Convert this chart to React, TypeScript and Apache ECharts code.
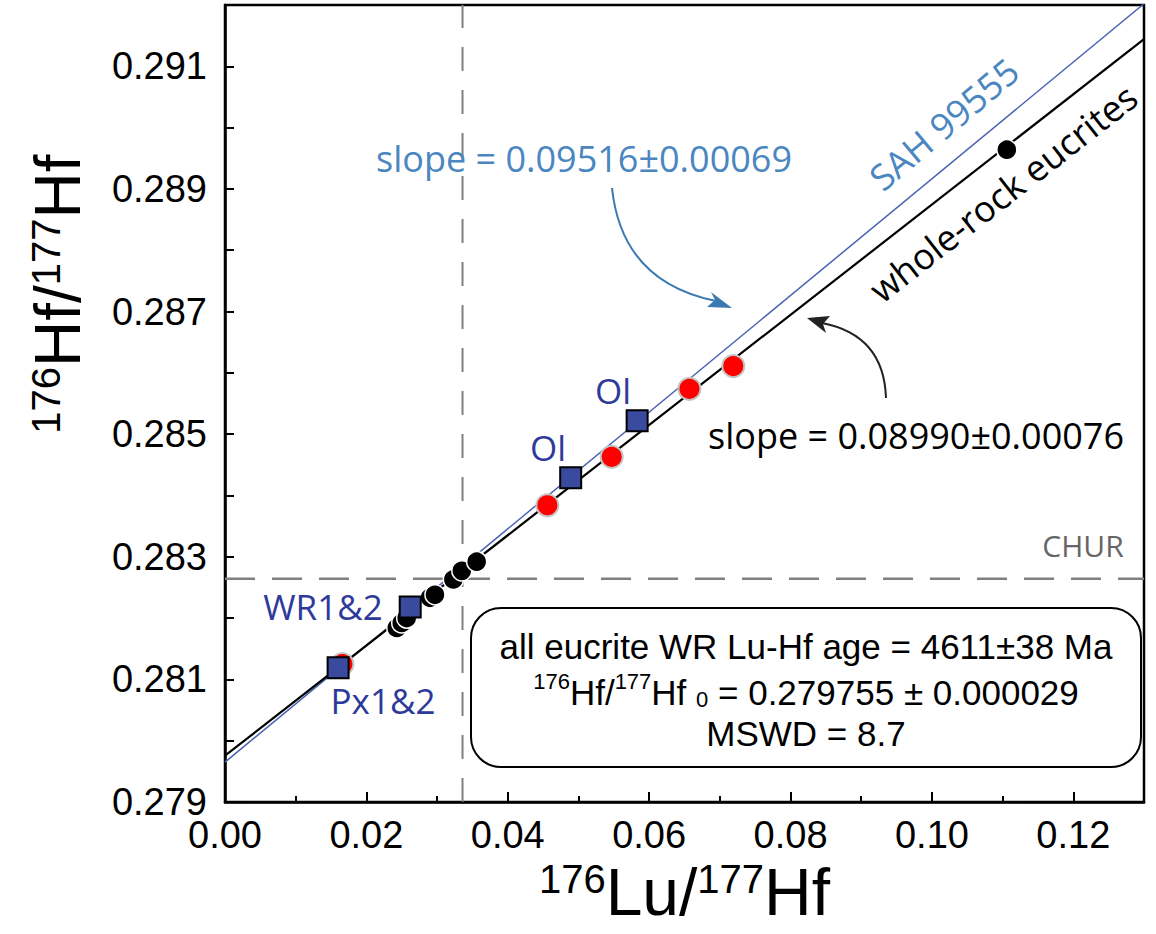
import React, { useEffect, useRef } from "react";
import * as echarts from "echarts";

// ---- data ----
const fitX = [0, 0.13];
const wholeRockFitY = [0.279755, 0.291442];
const sahFitY = [0.27965, 0.29202];
const churHf = 0.28264;
const churLu = 0.0336;

const wrX = [0.0243, 0.025, 0.0257, 0.029, 0.0297, 0.0323, 0.0335, 0.0356, 0.1106];
const wrY = [0.28184, 0.28192, 0.282, 0.28233, 0.28238, 0.28263, 0.28277, 0.28292, 0.28964];

const redX = [0.0166, 0.0456, 0.0547, 0.0657, 0.0719];
const redY = [0.28125, 0.28384, 0.28463, 0.28574, 0.28611];

const sqX = [0.016, 0.0262, 0.0489, 0.0583];
const sqY = [0.28119, 0.28218, 0.28429, 0.28522];

const xMin = 0, xMax = 0.13, xStep = 0.02;
const yMin = 0.279, yMax = 0.292, yStep = 0.002;

const pts = (xs: number[], ys: number[]) => xs.map((x, i) => [x, ys[i]]);

const SANS = "'Liberation Sans', Arial, sans-serif";
const UI = "'Open Sans', 'Noto Sans', sans-serif";
const BLUE_TXT = "#4a86c0";
const DARK_BLUE = "#2e3a9a";

export default function App() {
  const ref = useRef<HTMLDivElement>(null);
  useEffect(() => {
    const chart = echarts.init(ref.current!, null, { renderer: "svg" });
    const deg = Math.PI / 180;
    chart.setOption({
      animation: false,
      backgroundColor: "#fff",
      grid: {
        left: 225, right: 12, top: 5, bottom: 132,
        show: true, borderColor: "#000", borderWidth: 2.5, backgroundColor: "transparent",
      },
      xAxis: {
        type: "value", min: xMin, max: xMax, interval: xStep,
        axisLine: { show: true, lineStyle: { color: "#000", width: 2.5 } },
        axisTick: { show: true, inside: true, length: 10, lineStyle: { color: "#000", width: 2 } },
        minorTick: { show: true, splitNumber: 2, length: 6, lineStyle: { color: "#000", width: 2 } },
        splitLine: { show: false },
        axisLabel: {
          fontFamily: SANS, fontSize: 38, color: "#000", margin: 14,
          showMaxLabel: false, formatter: (v: number) => v.toFixed(2),
        },
        name: "{s|176}{m|Lu/}{s|177}{m|Hf}",
        nameLocation: "middle",
        nameGap: 52,
        nameTextStyle: {
          rich: {
            s: { fontFamily: SANS, fontSize: 40, verticalAlign: "top", lineHeight: 40, color: "#000" },
            m: { fontFamily: SANS, fontSize: 66, verticalAlign: "top", lineHeight: 66, color: "#000" },
          },
        },
      },
      yAxis: {
        type: "value", min: yMin, max: yMax, interval: yStep,
        axisLine: { show: true, lineStyle: { color: "#000", width: 2.5 } },
        axisTick: { show: true, inside: true, length: 9, lineStyle: { color: "#000", width: 2 } },
        minorTick: { show: true, splitNumber: 2, length: 9, lineStyle: { color: "#000", width: 2 } },
        splitLine: { show: false },
        axisLabel: {
          fontFamily: SANS, fontSize: 38, color: "#000", margin: 18,
          showMaxLabel: false, formatter: (v: number) => v.toFixed(3),
        },
      },
      series: [
        {
          name: "CHUR Hf", type: "line", symbol: "none", silent: true,
          data: [[xMin, churHf], [xMax, churHf]],
          lineStyle: { color: "#808080", width: 2.5, type: [30, 17] }, z: 1,
        },
        {
          name: "CHUR Lu", type: "line", symbol: "none", silent: true,
          data: [[churLu, yMin], [churLu, yMax]],
          lineStyle: { color: "#808080", width: 2, type: [24, 19] }, z: 1,
        },
        {
          name: "SAH 99555", type: "line", symbol: "none",
          data: pts(fitX, sahFitY),
          lineStyle: { color: "#4a63b0", width: 1.5 }, z: 2,
        },
        {
          name: "whole-rock eucrites", type: "line", symbol: "none",
          data: pts(fitX, wholeRockFitY),
          lineStyle: { color: "#000", width: 2.2 }, z: 2,
        },
        {
          name: "WR eucrites", type: "scatter", symbol: "circle", symbolSize: 20,
          data: pts(wrX, wrY),
          itemStyle: { color: "#000", borderColor: "#fff", borderWidth: 1.5, opacity: 1 }, z: 3,
        },
        {
          name: "SAH WR", type: "scatter", symbol: "circle", symbolSize: 22,
          data: pts(redX, redY),
          itemStyle: { color: "#ff0000", borderColor: "#c4c4c4", borderWidth: 2, opacity: 1 }, z: 4,
        },
        {
          name: "SAH minerals", type: "scatter", symbol: "rect", symbolSize: 21,
          data: pts(sqX, sqY),
          itemStyle: { color: "#3a4a9f", borderColor: "#000", borderWidth: 2, opacity: 1 }, z: 5,
        },
      ],
      graphic: [
        // y axis title
        {
          type: "text", x: 58, y: 294, rotation: 90 * deg, z: 10,
          style: {
            text: "{s|176}{m|Hf/}{s|177}{m|Hf}",
            align: "center", verticalAlign: "middle",
            rich: {
              s: { fontFamily: SANS, fontSize: 40, verticalAlign: "top", lineHeight: 40, fill: "#000" },
              m: { fontFamily: SANS, fontSize: 64, verticalAlign: "top", lineHeight: 64, fill: "#000" },
            },
          },
        },
        // slope annotations
        {
          type: "text", x: 584, y: 158, z: 10,
          style: { text: "slope = 0.09516±0.00069", fontFamily: UI, fontSize: 36, fill: BLUE_TXT, align: "center", verticalAlign: "middle" },
        },
        {
          type: "text", x: 916, y: 435, z: 10,
          style: { text: "slope = 0.08990±0.00076", fontFamily: UI, fontSize: 36, fill: "#000", align: "center", verticalAlign: "middle" },
        },
        {
          type: "text", x: 944, y: 124, rotation: 40 * deg, z: 10,
          style: { text: "SAH 99555", fontFamily: UI, fontSize: 36, fill: BLUE_TXT, align: "center", verticalAlign: "middle" },
        },
        {
          type: "text", x: 1003, y: 193, rotation: 38 * deg, z: 10,
          style: { text: "whole-rock eucrites", fontFamily: UI, fontSize: 36, fill: "#000", align: "center", verticalAlign: "middle" },
        },
        {
          type: "text", x: 1083, y: 545, z: 10,
          style: { text: "CHUR", fontFamily: UI, fontSize: 30, fill: "#666", align: "center", verticalAlign: "middle" },
        },
        // point labels
        {
          type: "text", x: 548, y: 447, z: 10,
          style: { text: "Ol", fontFamily: UI, fontSize: 35, fill: DARK_BLUE, align: "center", verticalAlign: "middle" },
        },
        {
          type: "text", x: 613, y: 390, z: 10,
          style: { text: "Ol", fontFamily: UI, fontSize: 35, fill: DARK_BLUE, align: "center", verticalAlign: "middle" },
        },
        {
          type: "text", x: 323, y: 606, z: 10,
          style: { text: "WR1&2", fontFamily: UI, fontSize: 35, fill: DARK_BLUE, align: "center", verticalAlign: "middle" },
        },
        {
          type: "text", x: 383, y: 700, z: 10,
          style: { text: "Px1&2", fontFamily: UI, fontSize: 35, fill: DARK_BLUE, align: "center", verticalAlign: "middle" },
        },
        // arrows
        {
          type: "bezierCurve", z: 10,
          shape: { x1: 612, y1: 188, x2: 716, y2: 301, cpx1: 622, cpy1: 282 },
          style: { stroke: "#3a7ab0", lineWidth: 2, fill: "none" },
        },
        {
          type: "polygon", z: 10,
          shape: { points: [[732, 308], [711, 292], [715, 300], [707, 307]] },
          style: { fill: "#3a7ab0" },
        },
        {
          type: "bezierCurve", z: 10,
          shape: { x1: 886, y1: 398, x2: 822, y2: 323, cpx1: 884, cpy1: 335 },
          style: { stroke: "#222", lineWidth: 2, fill: "none" },
        },
        {
          type: "polygon", z: 10,
          shape: { points: [[807, 318], [830, 316], [823, 324], [826, 333]] },
          style: { fill: "#222" },
        },
        // info box
        {
          type: "rect", z: 9,
          shape: { x: 471, y: 608, width: 670, height: 159, r: 30 },
          style: { fill: "#fff", stroke: "#000", lineWidth: 2 },
        },
        {
          type: "text", x: 806, y: 646, z: 10,
          style: { text: "all eucrite WR Lu-Hf age = 4611±38 Ma", fontFamily: SANS, fontSize: 35, fill: "#000", align: "center", verticalAlign: "middle" },
        },
        {
          type: "text", x: 806, y: 690, z: 10,
          style: {
            text: "{s|176}{m|Hf/}{s|177}{m|Hf }{b|0}{m| = 0.279755 ± 0.000029}",
            align: "center", verticalAlign: "middle",
            rich: {
              s: { fontFamily: SANS, fontSize: 22, verticalAlign: "top", lineHeight: 22, fill: "#000" },
              m: { fontFamily: SANS, fontSize: 35, verticalAlign: "bottom", lineHeight: 40, fill: "#000" },
              b: { fontFamily: SANS, fontSize: 22, verticalAlign: "bottom", lineHeight: 26, fill: "#000" },
            },
          },
        },
        {
          type: "text", x: 806, y: 733, z: 10,
          style: { text: "MSWD = 8.7", fontFamily: SANS, fontSize: 35, fill: "#000", align: "center", verticalAlign: "middle" },
        },
      ],
    });
    return () => chart.dispose();
  }, []);
  return (
    <div
      ref={ref}
      style={{ position: "fixed", left: 0, top: 0, width: 1156, height: 934, background: "#fff" }}
    />
  );
}
